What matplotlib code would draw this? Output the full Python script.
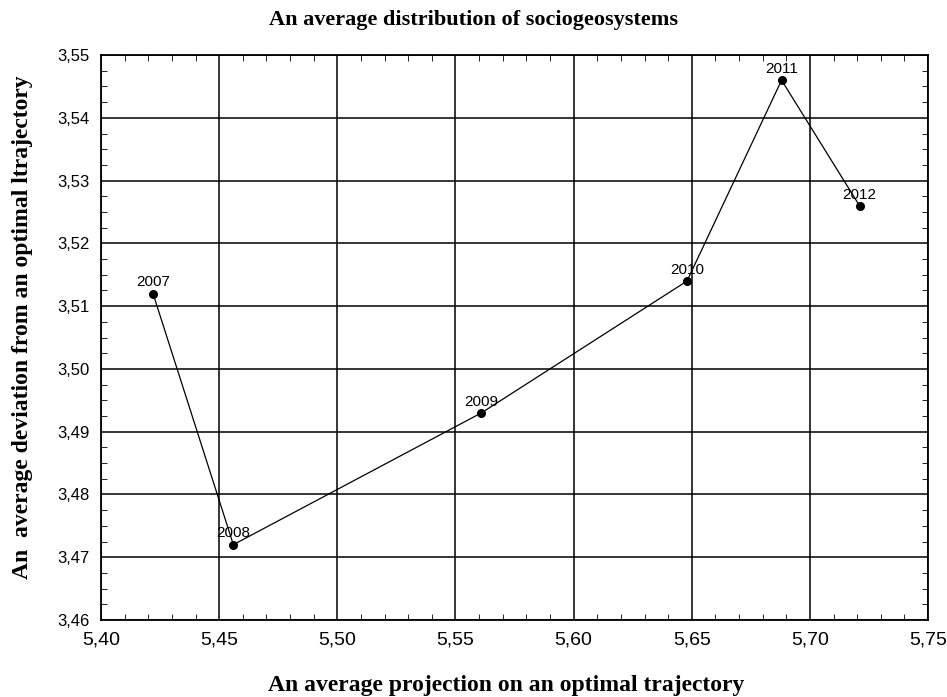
import matplotlib
matplotlib.use("Agg")
import matplotlib.pyplot as plt
from matplotlib.ticker import FuncFormatter, MultipleLocator

years = ["2007", "2008", "2009", "2010", "2011", "2012"]
projection = [5.422, 5.456, 5.561, 5.648, 5.688, 5.721]
deviation = [3.512, 3.472, 3.493, 3.514, 3.546, 3.526]

fig = plt.figure(figsize=(9.47, 6.97), dpi=100)
ax = fig.add_axes([0.1067, 0.1105, 0.8733, 0.8105])

ax.plot(projection, deviation, color="black", lw=0.9, marker="o", ms=5.5,
        markerfacecolor="black", zorder=3)
for x, y, t in zip(projection, deviation, years):
    ax.annotate(t, (x, y), xytext=(0, 3), textcoords="offset points",
                ha="center", va="bottom", fontsize=11, family="Liberation Sans",
                zorder=4)

ax.set_xlim(5.40, 5.75)
ax.set_ylim(3.46, 3.55)
ax.xaxis.set_major_locator(MultipleLocator(0.05))
ax.xaxis.set_minor_locator(MultipleLocator(0.01))
ax.yaxis.set_major_locator(MultipleLocator(0.01))
ax.yaxis.set_minor_locator(MultipleLocator(0.0025))
comma = FuncFormatter(lambda v, p: f"{v:.2f}".replace(".", ","))
ax.xaxis.set_major_formatter(comma)
ax.yaxis.set_major_formatter(comma)

ax.grid(True, which="major", color="black", lw=1.1)
ax.tick_params(which="both", direction="in", top=True, right=True, color="black")
ax.tick_params(which="major", length=0, pad=8)
ax.tick_params(which="minor", length=4)
for lab in ax.get_xticklabels():
    lab.set_fontsize(14)
    lab.set_family("Liberation Sans")
for lab in ax.get_yticklabels():
    lab.set_fontsize(12)
    lab.set_family("Liberation Sans")
for s in ax.spines.values():
    s.set_linewidth(1.3)

fig.text(0.5, 0.972, "An average distribution of sociogeosystems", ha="center",
         va="center", fontsize=16, fontweight="bold", family="Liberation Serif")
fig.text(0.534, 0.017, "An average projection on an optimal trajectory", ha="center",
         va="center", fontsize=17, fontweight="bold", family="Liberation Serif")
fig.text(0.024, 0.53, "An  average deviation from an optimal ltrajectory", ha="center",
         va="center", rotation=90, fontsize=17, fontweight="bold",
         family="Liberation Serif")

fig.savefig("out.png", dpi=100)
